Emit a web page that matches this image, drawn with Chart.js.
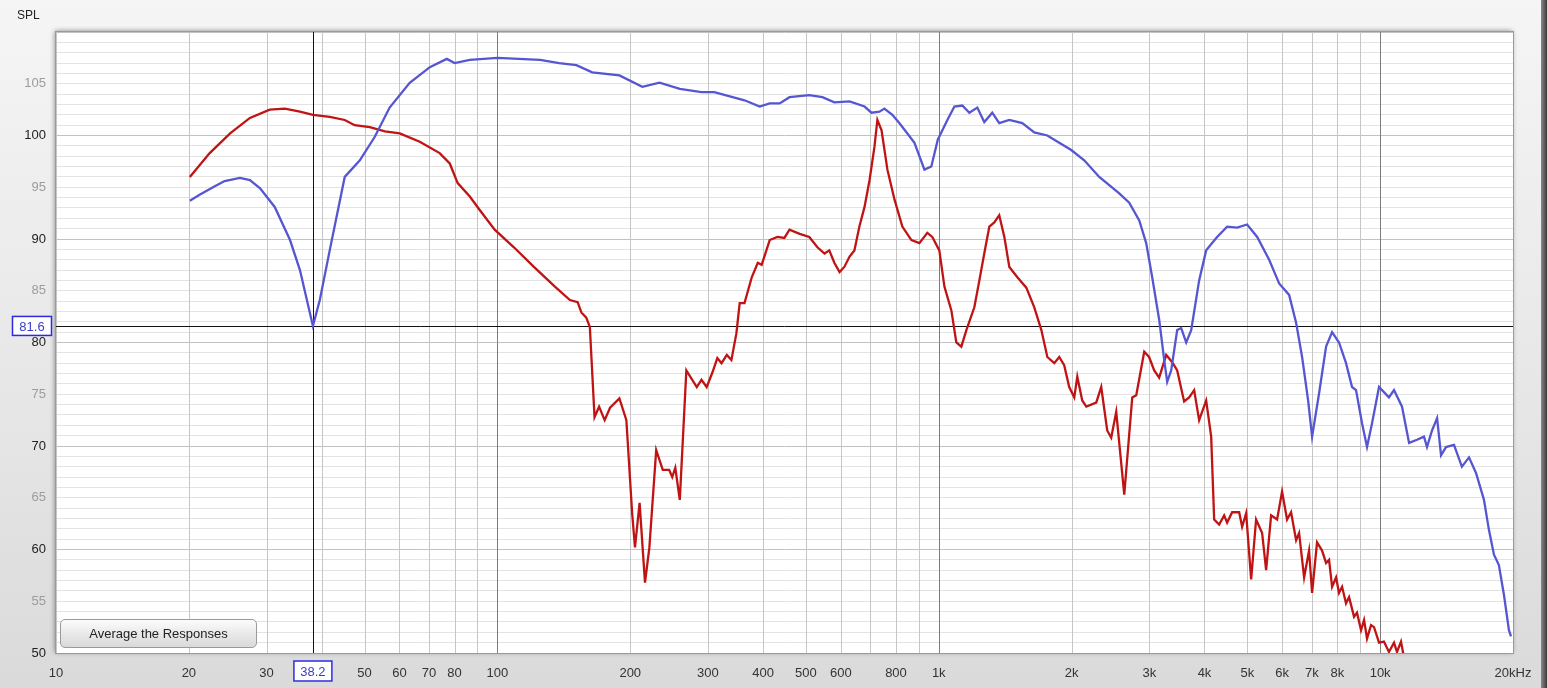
<!DOCTYPE html>
<html>
<head>
<meta charset="utf-8">
<title>SPL</title>
<script src="https://cdn.jsdelivr.net/npm/chart.js@4.4.1/dist/chart.umd.min.js"></script>
<style>
    html, body { margin: 0; padding: 0; width: 1547px; height: 688px; overflow: hidden; }
    body { background: linear-gradient(#f5f5f5, #e6e6e6 60%, #dadada); font-family: "Liberation Sans", Arial, sans-serif; }
    #wrap { position: relative; width: 1547px; height: 688px; }
    #chart { position: absolute; left: 0; top: 0; }
    #avg {
        position: absolute; left: 60px; top: 619px; width: 197px; height: 29px;
        border: 1px solid #9a9a9a; border-radius: 5px;
        background: linear-gradient(#fcfcfc, #e9e9e9 50%, #d9d9d9);
        font: 13px "Liberation Sans", Arial, sans-serif; color: #222; padding: 0;
    }
    #edge { position: absolute; right: 0; top: 0; width: 6px; height: 688px; background: linear-gradient(90deg, #8a8a8a, #3a3a3a); }
</style>
</head>
<body>
<div id="wrap">
    <canvas id="chart" width="1547" height="688"></canvas>
    <button id="avg">Average the Responses</button>
    <div id="edge"></div>
</div>
<script>
// Blue trace (Hz / dB)
const blueFreq = [
    20.1, 21.2, 22.9, 24.1, 26.1, 27.5, 29.0, 31.3, 33.9, 35.7, 38.2, 39.6, 41.7,
    45.1, 48.8, 52.8, 57.0, 63.3, 70.3, 76.8, 80, 86.6, 100,
    125, 138, 151, 164, 189, 213, 233, 259, 290, 310,
    363, 393, 414, 436, 459, 509, 545, 580, 628, 679,
    704, 734, 753, 785, 814, 849, 881, 928, 962, 995,
    1046, 1085, 1131, 1173, 1223, 1268, 1322, 1371, 1445, 1546,
    1646, 1762, 1875, 1996, 2136, 2310, 2564, 2701, 2846, 2951,
    3045, 3158, 3242, 3293, 3362, 3469, 3542, 3636, 3732, 3890,
    4035, 4272, 4501, 4742, 4996, 5266, 5605, 5904, 6220, 6451,
    6656, 6868, 7012, 7273, 7543, 7783, 8070, 8370, 8637, 8819,
    9099, 9339, 9587, 9943, 10470, 10750, 11210, 11630, 12120, 12570,
    12770, 13110, 13460, 13740, 14100, 14700, 15320, 15900, 16490, 17190,
    17640, 18110, 18580, 19080, 19580, 19790
];
const blueSpl = [
    93.7, 94.3, 95.1, 95.6, 95.9, 95.7, 94.9, 93.1, 89.9, 87.0, 81.6, 84.1, 88.9,
    96.0, 97.6, 99.9, 102.7, 105.1, 106.6, 107.4, 107.0, 107.3, 107.5,
    107.3, 107.0, 106.8, 106.1, 105.8, 104.7, 105.1, 104.5, 104.2, 104.2,
    103.4, 102.8, 103.1, 103.1, 103.7, 103.9, 103.7, 103.2, 103.3, 102.8,
    102.2, 102.3, 102.6, 102.0, 101.2, 100.2, 99.3, 96.7, 97.0, 99.6,
    101.5, 102.8, 102.9, 102.2, 102.7, 101.3, 102.2, 101.2, 101.5, 101.2,
    100.3, 100.0, 99.3, 98.6, 97.6, 96.0, 94.4, 93.5, 91.8, 89.6,
    86.3, 82.2, 78.3, 76.2, 77.3, 81.2, 81.4, 80.0, 81.2, 86.0,
    88.9, 90.2, 91.2, 91.1, 91.4, 90.2, 88.0, 85.7, 84.6, 81.9,
    78.6, 74.4, 70.9, 75.1, 79.6, 81.0, 80.0, 78.0, 75.7, 75.4,
    72.2, 69.9, 72.2, 75.7, 74.7, 75.4, 73.8, 70.3, 70.6, 70.9,
    69.9, 71.5, 72.7, 69.1, 69.9, 70.1, 68.0, 68.9, 67.4, 64.8,
    61.9, 59.5, 58.5, 55.6, 52.2, 51.6
];

// Red trace (Hz / dB)
const redFreq = [
    20.1, 22.3, 24.8, 27.5, 30.5, 33.0, 35.7, 38.2, 41.7, 45.1,
    47.5, 51.4, 55.6, 60.1, 66.7, 74.0, 78.0, 81.3, 86.6, 91.2,
    98.6, 109, 121, 135, 146, 152, 155, 159, 162, 166,
    170, 175, 180, 189, 196, 202, 205, 210, 216, 221,
    229, 237, 245, 249, 253, 259, 268, 283, 290, 298,
    307, 315, 322, 331, 339, 348, 354, 363, 377, 389,
    397, 414, 431, 447, 459, 484, 509, 531, 551, 565,
    580, 596, 611, 628, 644, 661, 679, 697, 715, 726,
    742, 765, 794, 827, 867, 904, 942, 967, 1003, 1030,
    1068, 1096, 1125, 1155, 1204, 1236, 1268, 1302, 1336, 1371,
    1408, 1445, 1507, 1579, 1646, 1708, 1762, 1827, 1875, 1924,
    1975, 2028, 2060, 2114, 2159, 2274, 2334, 2408, 2459, 2524,
    2632, 2744, 2802, 2921, 2996, 3077, 3158, 3276, 3380, 3469,
    3597, 3692, 3790, 3890, 4035, 4142, 4207, 4318, 4432, 4501,
    4621, 4793, 4868, 4971, 5102, 5236, 5403, 5517, 5662, 5842,
    5996, 6154, 6284, 6451, 6553, 6726, 6902, 7012, 7196, 7386,
    7543, 7661, 7783, 7947, 8070, 8199, 8370, 8504, 8728, 8865,
    9052, 9195, 9339, 9537, 9687, 9943, 10200, 10470, 10750, 10920,
    11150, 11330
];
const redSpl = [
    96.0, 98.3, 100.2, 101.7, 102.5, 102.6, 102.3, 102.0, 101.8, 101.5,
    101.0, 100.8, 100.4, 100.2, 99.4, 98.3, 97.3, 95.4, 94.1, 92.8,
    90.9, 89.2, 87.3, 85.4, 84.1, 83.9, 82.9, 82.4, 81.5, 72.8,
    73.8, 72.5, 73.7, 74.6, 72.5, 63.5, 60.2, 64.5, 56.8, 60.2,
    69.6, 67.7, 67.7, 67.0, 67.9, 64.8, 77.3, 75.7, 76.4, 75.7,
    77.1, 78.5, 78.0, 78.8, 78.3, 80.9, 83.8, 83.8, 86.3, 87.7,
    87.5, 89.9, 90.2, 90.1, 90.9, 90.5, 90.2, 89.2, 88.6, 88.9,
    87.7, 86.8, 87.3, 88.3, 88.9, 91.2, 93.1, 95.7, 98.9, 101.5,
    100.5, 96.7, 93.8, 91.2, 89.9, 89.6, 90.6, 90.2, 88.9, 85.4,
    83.1, 80.0, 79.6, 81.2, 83.4, 86.0, 88.6, 91.2, 91.6, 92.3,
    90.2, 87.3, 86.3, 85.3, 83.4, 81.2, 78.6, 78.0, 78.6, 77.8,
    75.7, 74.7, 76.7, 74.4, 73.8, 74.2, 75.7, 71.5, 70.8, 73.3,
    65.3, 74.7, 74.9, 79.1, 78.6, 77.3, 76.6, 78.8, 78.1, 77.3,
    74.3, 74.7, 75.4, 72.5, 74.4, 70.9, 62.9, 62.4, 63.3, 62.6,
    63.6, 63.6, 62.2, 63.5, 57.1, 62.9, 61.6, 58.0, 63.3, 62.9,
    65.6, 62.9, 63.6, 60.9, 61.6, 57.3, 59.9, 55.8, 60.7, 59.9,
    58.7, 59.0, 56.4, 57.3, 55.8, 56.4, 54.8, 55.4, 53.5, 53.9,
    52.2, 53.2, 51.4, 52.7, 52.5, 51.0, 51.1, 50.1, 51.0, 50.1,
    51.1, 49.5
];

// Axes
const gridFreqs = [
    10, 20, 30, 40, 50, 60, 70, 80, 90,
    100, 200, 300, 400, 500, 600, 700, 800, 900,
    1000, 2000, 3000, 4000, 5000, 6000, 7000, 8000, 9000,
    10000, 20000
];
const decadeFreqs = [100, 1000, 10000];
const xLabels = {
    10: '10', 20: '20', 30: '30', 50: '50', 60: '60', 70: '70', 80: '80',
    100: '100', 200: '200', 300: '300', 400: '400', 500: '500', 600: '600', 800: '800',
    1000: '1k', 2000: '2k', 3000: '3k', 4000: '4k', 5000: '5k', 6000: '6k', 7000: '7k', 8000: '8k',
    10000: '10k', 20000: '20kHz'
};
const yMin = 50, yMax = 110;

// Cursor
const cursorFreq = 38.2;
const cursorSpl = 81.6;

const toPoints = (fs, vs) => fs.map((f, i) => ({ x: f, y: vs[i] }));

function drawBox(ctx, text, cx, cy, w, h) {
    ctx.save();
    ctx.fillStyle = '#ffffff';
    ctx.fillRect(cx - w / 2, cy - h / 2, w, h);
    ctx.strokeStyle = '#2a2ae0';
    ctx.lineWidth = 1.5;
    ctx.strokeRect(cx - w / 2 + 0.5, cy - h / 2 + 0.5, w - 1, h - 1);
    ctx.fillStyle = '#3c3cc8';
    ctx.font = '13px "Liberation Sans", Arial, sans-serif';
    ctx.textAlign = 'center';
    ctx.textBaseline = 'middle';
    ctx.fillText(text, cx, cy + 1);
    ctx.restore();
}

const framePlugin = {
    id: 'frame',
    beforeDraw(chart) {
        const { ctx, chartArea: a } = chart;
        ctx.save();
        ctx.shadowColor = 'rgba(0,0,0,0.45)';
        ctx.shadowBlur = 5;
        ctx.shadowOffsetX = -1;
        ctx.shadowOffsetY = -1;
        ctx.fillStyle = '#ffffff';
        ctx.fillRect(a.left, a.top, a.right - a.left, a.bottom - a.top);
        ctx.restore();
    },
    beforeDatasetsDraw(chart) {
        const { ctx, chartArea: a, scales } = chart;
        ctx.save();
        // vertical frequency grid, drawn over the dB lines so it stays solid
        ctx.lineWidth = 1;
        gridFreqs.forEach(f => {
            const px = Math.round(scales.x.getPixelForValue(f)) + 0.5;
            ctx.strokeStyle = decadeFreqs.includes(f) ? '#7c7c7c' : '#c6c6c6';
            ctx.beginPath();
            ctx.moveTo(px, a.top); ctx.lineTo(px, a.bottom);
            ctx.stroke();
        });
        const cx = Math.round(scales.x.getPixelForValue(cursorFreq)) + 0.5;
        const cy = Math.round(scales.y.getPixelForValue(cursorSpl)) + 0.5;
        ctx.strokeStyle = '#111111';
        ctx.beginPath();
        ctx.moveTo(cx, a.top); ctx.lineTo(cx, a.bottom);
        ctx.moveTo(a.left, cy); ctx.lineTo(a.right, cy);
        ctx.stroke();
        ctx.restore();
    },
    afterDraw(chart) {
        const { ctx, chartArea: a, scales } = chart;
        ctx.save();
        ctx.strokeStyle = '#9a9a9a';
        ctx.lineWidth = 1;
        ctx.strokeRect(a.left - 0.5, a.top - 0.5, a.right - a.left + 1, a.bottom - a.top + 1);
        ctx.fillStyle = '#222222';
        ctx.font = '12px "Liberation Sans", Arial, sans-serif';
        ctx.textBaseline = 'middle';
        ctx.fillText('SPL', 17, 16);
        ctx.restore();
        drawBox(ctx, String(cursorFreq), scales.x.getPixelForValue(cursorFreq), 671, 39, 21);
        drawBox(ctx, String(cursorSpl), 32, scales.y.getPixelForValue(cursorSpl), 40, 20);
    }
};

Chart.defaults.font.family = '"Liberation Sans", Arial, sans-serif';
Chart.defaults.font.size = 13;

new Chart(document.getElementById('chart'), {
    type: 'line',
    data: {
        datasets: [
            {
                label: 'Blue',
                data: toPoints(blueFreq, blueSpl),
                borderColor: '#5656d2',
                borderWidth: 2.3,
                pointRadius: 0,
                tension: 0
            },
            {
                label: 'Red',
                data: toPoints(redFreq, redSpl),
                borderColor: '#c01414',
                borderWidth: 2.3,
                pointRadius: 0,
                tension: 0
            }
        ]
    },
    options: {
        responsive: false,
        animation: false,
        devicePixelRatio: 1,
        layout: { padding: { left: 0, right: 34, top: 32, bottom: 0 } },
        plugins: {
            legend: { display: false },
            tooltip: { enabled: false }
        },
        scales: {
            x: {
                type: 'logarithmic',
                min: 10,
                max: 20000,
                afterBuildTicks: scale => { scale.ticks = gridFreqs.map(v => ({ value: v })); },
                afterFit: scale => { scale.height = 35; },
                border: { display: false },
                grid: { display: false },
                ticks: {
                    autoSkip: false,
                    maxRotation: 0,
                    padding: 5,
                    color: '#333333',
                    callback: v => xLabels[v] || ''
                }
            },
            y: {
                min: yMin,
                max: yMax,
                afterFit: scale => { scale.width = 56; },
                border: { display: false },
                grid: {
                    drawTicks: false,
                    color: ctx => {
                        const v = ctx.tick && ctx.tick.value;
                        return v % 10 === 0 ? '#c2c2c2' : '#e3e3e3';
                    }
                },
                ticks: {
                    stepSize: 1,
                    autoSkip: false,
                    padding: 10,
                    color: ctx => (ctx.tick.value % 10 === 0 ? '#222222' : '#9c9c9c'),
                    callback: v => (v % 5 === 0 && v < yMax ? String(v) : '')
                }
            }
        }
    },
    plugins: [framePlugin]
});
</script>
</body>
</html>
